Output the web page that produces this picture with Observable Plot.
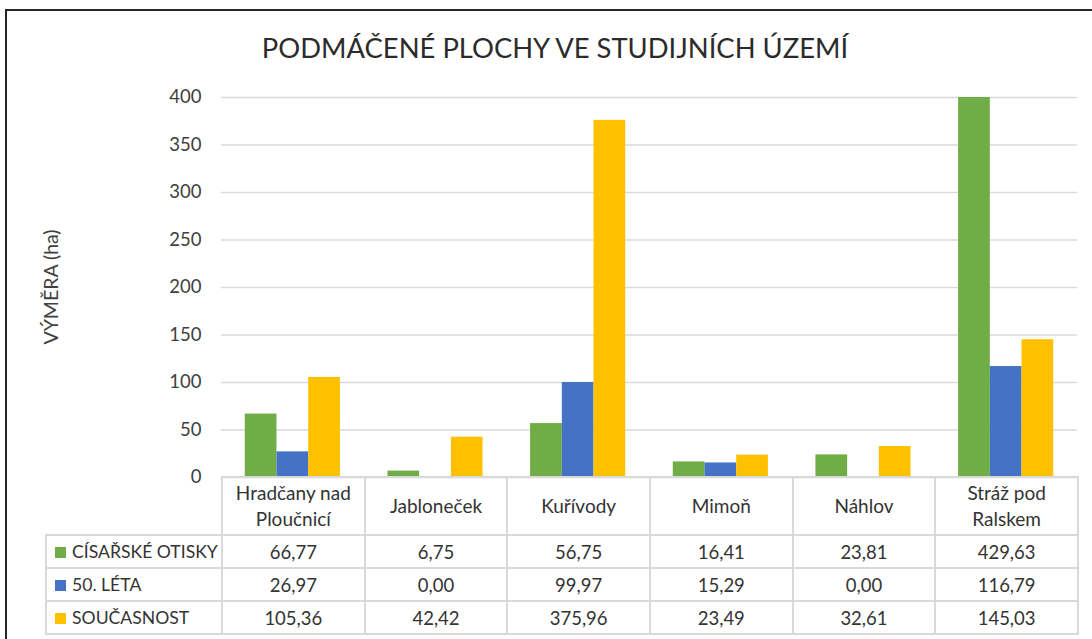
<!DOCTYPE html>
<html>
<head>
<meta charset="utf-8">
<script src="https://cdn.jsdelivr.net/npm/d3@7"></script>
<script src="https://cdn.jsdelivr.net/npm/@observablehq/plot@0.6"></script>
<style>
  html, body { margin: 0; padding: 0; background: #fff; }
  #wrap { position: relative; width: 1092px; height: 639px; overflow: hidden; font-family: Lato, "Open Sans", sans-serif; background: #fff; }
  #frame { position: absolute; left: 5px; top: 9px; width: 1200px; height: 700px; border: 2px solid #262626; }
  #title { position: absolute; left: 0; width: 1110px; top: 34px; line-height: 28px; text-align: center; font-size: 27.4px; color: #2b2b2b; white-space: nowrap; }
  #chart { position: absolute; left: 0; top: 80px; }
  #ylab { position: absolute; left: 50px; top: 287px; transform: translate(-50%, -50%) rotate(-90deg); white-space: nowrap; font-size: 19.5px; color: #404040; line-height: 19px; }
  #tbl { position: absolute; left: 45px; top: 476px; border-collapse: collapse; table-layout: fixed; width: 1032px; color: #333; font-size: 18.5px; }
  #tbl td { border: 2px solid #d9d9d9; text-align: center; vertical-align: middle; padding: 0 4px; white-space: normal; }
  #tbl tr.head td { height: 56px; line-height: 26px; font-size: 19px; }
  #tbl tr.row td { height: 31px; line-height: 22px; }
  #tbl td.corner { border-top: none; border-left: none; }
  #tbl td.leg { text-align: left; padding-left: 8px; white-space: nowrap; font-size: 17.6px; }
  .sw { display: inline-block; width: 11px; height: 11px; margin-right: 6px; vertical-align: 0px; }
</style>
</head>
<body>
<div id="wrap">
  <div id="frame"></div>
  <div id="title"></div>
  <div id="chart"></div>
  <div id="ylab"></div>
  <table id="tbl"></table>
</div>
<script>
// ---- data ----
const titleText = "PODMÁČENÉ PLOCHY VE STUDIJNÍCH ÚZEMÍ";
const yLabel = "VÝMĚRA (ha)";
const categories = ["Hradčany nad Ploučnicí", "Jabloneček", "Kuřívody", "Mimoň", "Náhlov", "Stráž pod Ralskem"];
const seriesNames = ["CÍSAŘSKÉ OTISKY", "50. LÉTA", "SOUČASNOST"];
const cisarskeOtisky = [66.77, 6.75, 56.75, 16.41, 23.81, 429.63];
const padesataLeta = [26.97, 0.00, 99.97, 15.29, 0.00, 116.79];
const soucasnost = [105.36, 42.42, 375.96, 23.49, 32.61, 145.03];
const seriesColors = ["#70AD47", "#4472C4", "#FFC000"];
const yTicks = [0, 50, 100, 150, 200, 250, 300, 350, 400];

const seriesValues = [cisarskeOtisky, padesataLeta, soucasnost];
const data = [];
categories.forEach((c, i) => {
  seriesNames.forEach((s, j) => data.push({cat: c, series: s, value: seriesValues[j][i]}));
});

document.getElementById("title").textContent = titleText;
document.getElementById("ylab").textContent = yLabel;

const chart = Plot.plot({
  width: 1092,
  height: 397,
  marginLeft: 221,
  marginRight: 15,
  marginTop: 17,
  marginBottom: 0,
  style: {fontFamily: "Lato, 'Open Sans', sans-serif", fontSize: "18.5px", color: "#404040", background: "transparent", overflow: "visible"},
  fx: {domain: categories, padding: 0, round: false, axis: null, label: null},
  x: {domain: seriesNames, paddingInner: 0, paddingOuter: 0.75, round: false, axis: null},
  y: {domain: [0, 400], axis: null},
  color: {domain: seriesNames, range: seriesColors},
  marks: [
    Plot.ruleY(yTicks, {stroke: "#d9d9d9", strokeWidth: 1.6}),
    Plot.barY(data, {fx: "cat", x: "series", y: "value", fill: "series", clip: true}),
    Plot.axisY({ticks: yTicks, tickSize: 0, tickPadding: 20, label: null, tickFormat: d => String(d), fill: "#404040"})
  ]
});
document.getElementById("chart").appendChild(chart);

// ---- data table ----
const fmt = v => v.toFixed(2).replace(".", ",");
const tbl = document.getElementById("tbl");
const cg = document.createElement("colgroup");
const c0 = document.createElement("col"); c0.style.width = "176px"; cg.appendChild(c0);
categories.forEach(() => { const c = document.createElement("col"); c.style.width = (856 / categories.length) + "px"; cg.appendChild(c); });
tbl.appendChild(cg);
const head = document.createElement("tr"); head.className = "head";
const corner = document.createElement("td"); corner.className = "corner"; head.appendChild(corner);
categories.forEach(c => { const td = document.createElement("td"); td.textContent = c; head.appendChild(td); });
tbl.appendChild(head);
seriesNames.forEach((s, j) => {
  const tr = document.createElement("tr"); tr.className = "row";
  const leg = document.createElement("td"); leg.className = "leg";
  const sw = document.createElement("span"); sw.className = "sw"; sw.style.background = seriesColors[j];
  leg.appendChild(sw); leg.appendChild(document.createTextNode(s));
  tr.appendChild(leg);
  seriesValues[j].forEach(v => { const td = document.createElement("td"); td.textContent = fmt(v); tr.appendChild(td); });
  tbl.appendChild(tr);
});
</script>
</body>
</html>
